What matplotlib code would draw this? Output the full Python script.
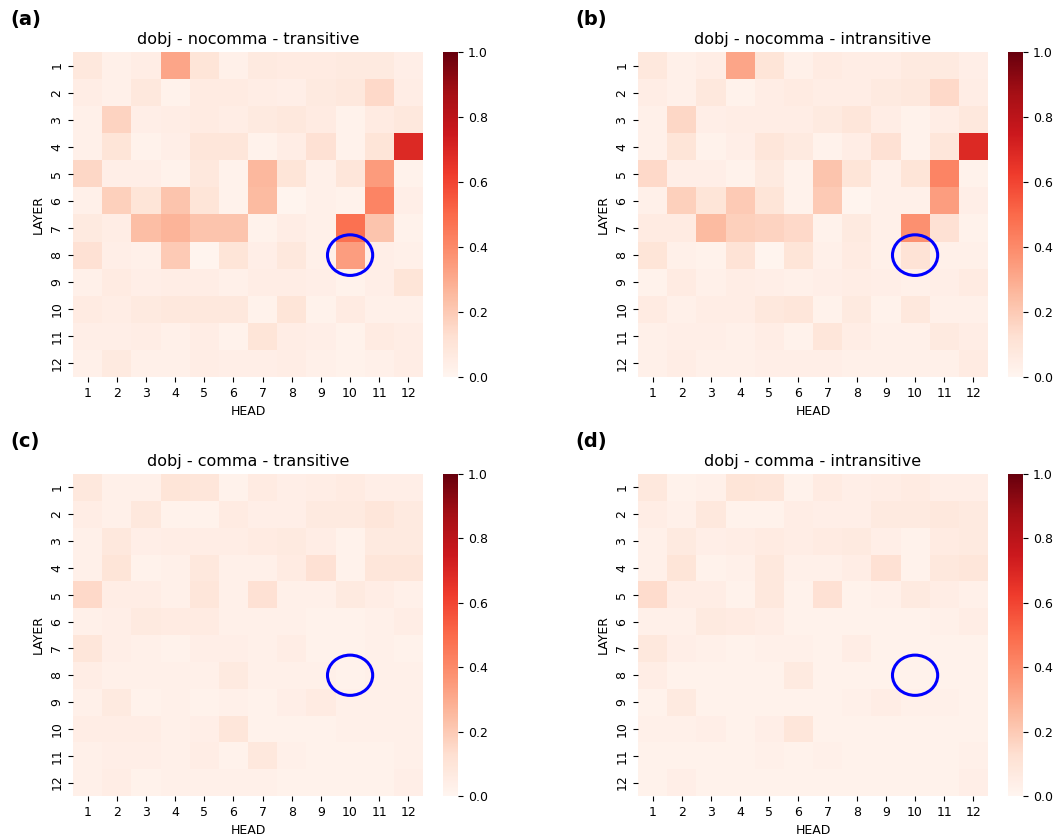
import numpy as np
import matplotlib
matplotlib.use("Agg")
import matplotlib.pyplot as plt
from matplotlib.patches import Ellipse
import seaborn as sns

heads = [str(i) for i in range(1, 13)]
layers = [str(i) for i in range(1, 13)]

titles = [
    "dobj - nocomma - transitive",
    "dobj - nocomma - intransitive",
    "dobj - comma - transitive",
    "dobj - comma - intransitive",
]
panel_tags = ["(a)", "(b)", "(c)", "(d)"]

nocomma_trans = [
    [0.08, 0.03, 0.05, 0.32, 0.10, 0.03, 0.07, 0.06, 0.06, 0.07, 0.07, 0.04],
    [0.05, 0.03, 0.08, 0.02, 0.06, 0.06, 0.05, 0.04, 0.07, 0.08, 0.15, 0.05],
    [0.03, 0.17, 0.04, 0.05, 0.06, 0.05, 0.07, 0.08, 0.06, 0.02, 0.06, 0.08],
    [0.03, 0.10, 0.02, 0.04, 0.09, 0.09, 0.02, 0.05, 0.12, 0.02, 0.10, 0.69],
    [0.16, 0.04, 0.04, 0.02, 0.08, 0.02, 0.26, 0.10, 0.03, 0.09, 0.35, 0.02],
    [0.03, 0.18, 0.10, 0.22, 0.10, 0.02, 0.25, 0.01, 0.03, 0.02, 0.42, 0.04],
    [0.07, 0.05, 0.24, 0.27, 0.22, 0.22, 0.02, 0.05, 0.03, 0.48, 0.22, 0.02],
    [0.12, 0.04, 0.03, 0.20, 0.01, 0.10, 0.04, 0.08, 0.03, 0.34, 0.04, 0.03],
    [0.03, 0.06, 0.04, 0.05, 0.05, 0.03, 0.05, 0.05, 0.04, 0.02, 0.04, 0.10],
    [0.06, 0.05, 0.07, 0.08, 0.08, 0.08, 0.02, 0.10, 0.02, 0.06, 0.03, 0.03],
    [0.04, 0.04, 0.05, 0.03, 0.05, 0.02, 0.10, 0.05, 0.04, 0.02, 0.06, 0.05],
    [0.03, 0.07, 0.03, 0.03, 0.05, 0.04, 0.04, 0.05, 0.03, 0.02, 0.03, 0.05],
]

nocomma_intrans = [
    [0.08, 0.03, 0.05, 0.32, 0.10, 0.03, 0.06, 0.05, 0.05, 0.07, 0.07, 0.04],
    [0.05, 0.03, 0.08, 0.02, 0.05, 0.06, 0.05, 0.05, 0.07, 0.08, 0.15, 0.05],
    [0.03, 0.16, 0.04, 0.05, 0.05, 0.05, 0.07, 0.09, 0.05, 0.02, 0.05, 0.08],
    [0.03, 0.10, 0.02, 0.04, 0.09, 0.07, 0.02, 0.05, 0.12, 0.02, 0.09, 0.69],
    [0.15, 0.04, 0.04, 0.02, 0.07, 0.02, 0.22, 0.10, 0.03, 0.10, 0.42, 0.02],
    [0.03, 0.18, 0.10, 0.20, 0.10, 0.02, 0.20, 0.01, 0.03, 0.03, 0.34, 0.04],
    [0.06, 0.06, 0.25, 0.18, 0.17, 0.15, 0.02, 0.07, 0.03, 0.38, 0.12, 0.02],
    [0.10, 0.03, 0.02, 0.11, 0.01, 0.10, 0.03, 0.06, 0.03, 0.11, 0.03, 0.03],
    [0.02, 0.06, 0.03, 0.05, 0.04, 0.03, 0.04, 0.05, 0.04, 0.03, 0.04, 0.06],
    [0.06, 0.03, 0.05, 0.05, 0.08, 0.09, 0.02, 0.07, 0.02, 0.08, 0.03, 0.03],
    [0.03, 0.04, 0.04, 0.03, 0.05, 0.02, 0.09, 0.05, 0.03, 0.03, 0.07, 0.05],
    [0.03, 0.05, 0.03, 0.03, 0.04, 0.04, 0.04, 0.03, 0.03, 0.03, 0.03, 0.06],
]

comma_trans = [
    [0.08, 0.03, 0.03, 0.10, 0.09, 0.02, 0.06, 0.04, 0.05, 0.06, 0.04, 0.04],
    [0.05, 0.03, 0.08, 0.02, 0.02, 0.06, 0.04, 0.04, 0.07, 0.07, 0.09, 0.07],
    [0.03, 0.08, 0.04, 0.05, 0.05, 0.05, 0.06, 0.07, 0.05, 0.02, 0.07, 0.07],
    [0.03, 0.10, 0.02, 0.03, 0.08, 0.03, 0.03, 0.06, 0.12, 0.02, 0.09, 0.09],
    [0.15, 0.05, 0.05, 0.03, 0.09, 0.03, 0.12, 0.03, 0.03, 0.07, 0.05, 0.03],
    [0.03, 0.04, 0.07, 0.06, 0.06, 0.03, 0.03, 0.03, 0.02, 0.02, 0.03, 0.05],
    [0.09, 0.04, 0.03, 0.02, 0.04, 0.04, 0.03, 0.05, 0.02, 0.02, 0.03, 0.02],
    [0.05, 0.03, 0.03, 0.03, 0.03, 0.07, 0.03, 0.03, 0.03, 0.02, 0.03, 0.03],
    [0.03, 0.07, 0.02, 0.03, 0.02, 0.03, 0.02, 0.04, 0.06, 0.03, 0.03, 0.03],
    [0.05, 0.05, 0.05, 0.03, 0.04, 0.09, 0.02, 0.02, 0.02, 0.03, 0.03, 0.03],
    [0.03, 0.04, 0.04, 0.03, 0.05, 0.02, 0.08, 0.03, 0.02, 0.02, 0.02, 0.03],
    [0.03, 0.05, 0.02, 0.03, 0.03, 0.03, 0.03, 0.02, 0.02, 0.02, 0.02, 0.04],
]

comma_intrans = [
    [0.08, 0.02, 0.03, 0.10, 0.09, 0.02, 0.06, 0.04, 0.05, 0.06, 0.04, 0.04],
    [0.05, 0.03, 0.08, 0.02, 0.02, 0.05, 0.04, 0.04, 0.07, 0.07, 0.08, 0.07],
    [0.03, 0.07, 0.04, 0.05, 0.06, 0.05, 0.06, 0.07, 0.04, 0.02, 0.06, 0.07],
    [0.03, 0.10, 0.02, 0.03, 0.08, 0.03, 0.03, 0.05, 0.12, 0.02, 0.08, 0.09],
    [0.14, 0.05, 0.05, 0.02, 0.08, 0.02, 0.12, 0.02, 0.03, 0.07, 0.05, 0.03],
    [0.03, 0.03, 0.07, 0.06, 0.05, 0.02, 0.02, 0.02, 0.02, 0.02, 0.03, 0.05],
    [0.08, 0.04, 0.03, 0.02, 0.03, 0.03, 0.02, 0.05, 0.02, 0.02, 0.02, 0.02],
    [0.05, 0.02, 0.02, 0.02, 0.02, 0.07, 0.02, 0.02, 0.02, 0.02, 0.02, 0.02],
    [0.02, 0.07, 0.02, 0.02, 0.02, 0.02, 0.02, 0.03, 0.05, 0.03, 0.03, 0.02],
    [0.03, 0.03, 0.04, 0.02, 0.04, 0.09, 0.02, 0.02, 0.02, 0.02, 0.02, 0.02],
    [0.02, 0.02, 0.02, 0.02, 0.03, 0.02, 0.03, 0.02, 0.02, 0.02, 0.02, 0.03],
    [0.02, 0.04, 0.02, 0.02, 0.02, 0.02, 0.02, 0.02, 0.02, 0.02, 0.02, 0.04],
]

matrices = [nocomma_trans, nocomma_intrans, comma_trans, comma_intrans]

# highlighted cell (layer 8, head 10)
mark_layer, mark_head = 8, 10

W, H = 1057, 840
fig = plt.figure(figsize=(W / 100, H / 100), dpi=100)

# pixel boxes: heatmap (left, top, right, bottom), then colorbar x-range
boxes = [
    (73, 52, 423, 377, 443, 458),
    (638, 52, 988, 377, 1008, 1023),
    (73, 474, 423, 796, 443, 458),
    (638, 474, 988, 796, 1008, 1023),
]

for i, (mat, title, tag) in enumerate(zip(matrices, titles, panel_tags)):
    l, t, r, b, cl, cr = boxes[i]
    ax = fig.add_axes([l / W, 1 - b / H, (r - l) / W, (b - t) / H])
    cax = fig.add_axes([cl / W, 1 - b / H, (cr - cl) / W, (b - t) / H])
    sns.heatmap(
        np.array(mat), ax=ax, cbar_ax=cax, cmap="Reds", vmin=0, vmax=1,
        xticklabels=heads, yticklabels=layers,
    )
    ax.set_title(title, fontsize=11.5)
    ax.set_xlabel("HEAD", fontsize=9)
    ax.set_ylabel("LAYER", fontsize=9)
    ax.tick_params(labelsize=9)
    ax.set_yticklabels(layers, rotation=90, va="center")
    cax.tick_params(labelsize=9)

    ax.add_patch(Ellipse((mark_head - 0.5, mark_layer - 0.5), 1.55, 1.5,
                         fill=False, edgecolor="blue", linewidth=2.2, zorder=5))

    fig.text((l - 63) / W, 1 - (t - 33) / H, tag, fontsize=14,
             fontweight="bold", va="center", ha="left")

fig.savefig("out.png", dpi=100)
